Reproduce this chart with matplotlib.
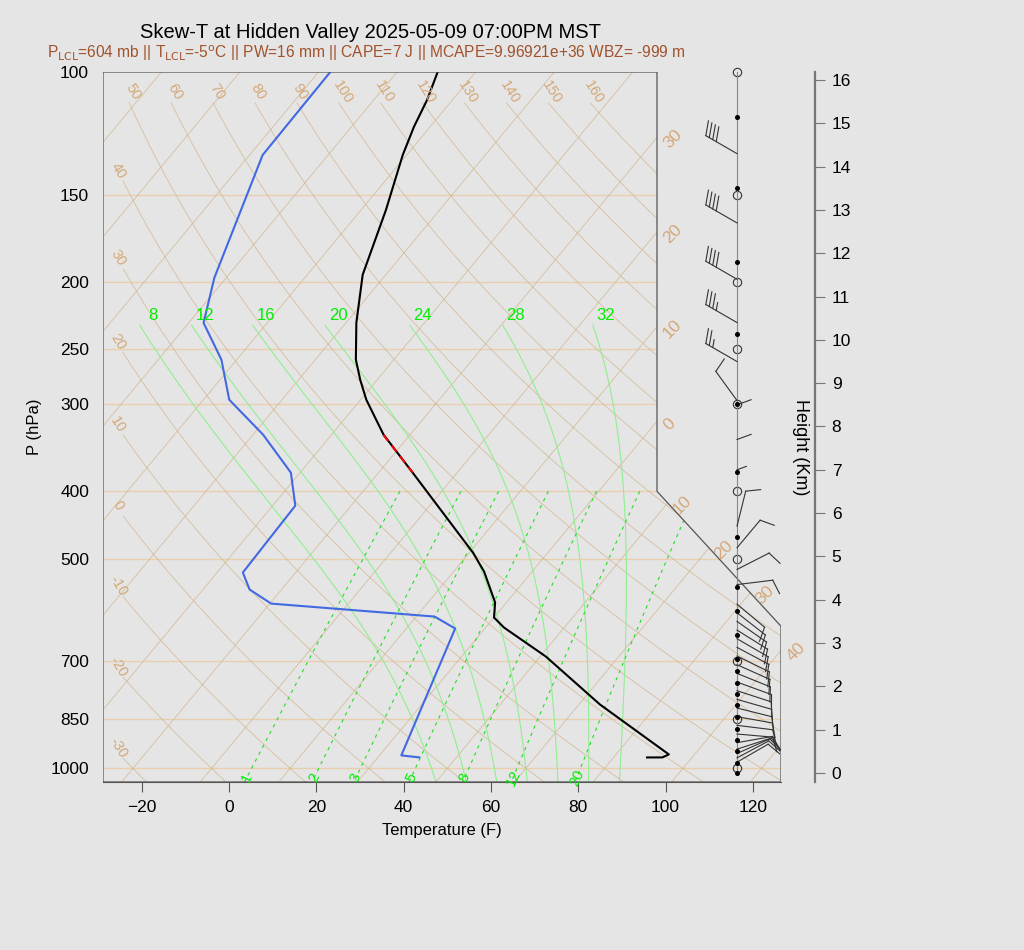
import numpy as np
import matplotlib
matplotlib.use("Agg")
import matplotlib.pyplot as plt
from matplotlib.patches import Polygon

plt.rcParams["font.family"] = ["Liberation Sans", "DejaVu Sans"]

# ---- sounding (pressure hPa, temperature F) ----
temp_p = [100, 109.7, 119.9, 131.6, 157.8, 195.5, 229.2, 258.9, 276.6, 295.5, 331.7, 376.1,
          489.8, 521.7, 577.8, 607.2, 627.7, 690.8, 809.4, 954.8, 964.3, 964.5]
temp_f = [-84.7, -81.8, -79.7, -76.9, -70.3, -63.3, -55.6, -48.7, -43.9, -38.7, -28.1, -14.2,
          14.8, 21.0, 29.4, 32.0, 36.2, 51.3, 72.8, 98.1, 97.2, 93.7]
dewp_p = [100, 131.6, 197.5, 229.2, 258.9, 276.6, 295.5, 331.7, 376.1, 419.5, 523.3, 553.6,
          579.9, 605.3, 629.7, 957.9, 964.3]
dewp_f = [-109.3, -109.0, -96.7, -90.6, -79.5, -74.8, -70.1, -55.7, -42.1, -34.8, -34.1, -29.3,
          -21.7, 18.2, 25.2, 37.0, 41.5]
parcel_p = [332, 376]
parcel_f = [-28.1, -14.2]

# ---- winds (height km, direction deg, speed kt) ----
wind_h = [14.3, 12.7, 11.4, 10.4, 9.5, 8.6, 8.5, 7.7, 7.0, 5.7, 5.2, 4.7, 4.35,
          3.9, 3.7, 3.5, 3.3, 3.1, 2.9, 2.7, 2.5, 2.3, 2.1, 1.9, 1.7, 1.5, 1.3, 1.1, 0.9,
          0.7, 0.55, 0.45, 0.35, 0.25]
wind_dir = [300, 300, 300, 300, 300, 324, 70, 70, 70, 14, 40, 63, 83,
            130, 128, 125, 122, 120, 118, 116, 114, 112, 110, 108, 106, 104, 100, 97, 95,
            80, 72, 66, 62, 60]
wind_spd = [40, 40, 40, 35, 25, 10, 3, 3, 2, 10, 10, 10, 10,
            10, 10, 10, 10, 10, 10, 10, 10, 10, 10, 10, 10, 10, 10, 10, 10,
            10, 10, 10, 10, 10]
dot_h = [15.15, 13.5, 11.79, 10.14, 8.52, 6.95, 5.45, 4.30, 3.74, 3.19, 2.63, 2.36, 2.08,
         1.82, 1.57, 1.29, 1.02, 0.76, 0.51, 0.23, 0.0]
circle_p = [100, 150, 200, 250, 300, 400, 500, 700, 850, 1000]

p_ticks = [100, 150, 200, 250, 300, 400, 500, 700, 850, 1000]
t_ticks = [-20, 0, 20, 40, 60, 80, 100, 120]
h_ticks = list(range(0, 17))
dry_theta_c = list(range(-30, 170, 10))
iso_c = list(range(-100, 60, 10))
moist_c = [8, 12, 16, 20, 24, 28, 32]
mix_gkg = [1, 2, 3, 5, 8, 12, 20]

K = 132.5          # skew, F per decade of pressure
XMIN, XMAX = -28.87, 126.46
PBOT, PTOP = 1046, 100
TAN = "#D2B48C"
LAB = "#D4A877"
BG = "#E5E5E5"
MIX_SHIFT = 4.0    # F, line placement as drawn in the original


def skew(tf, p):
    return np.asarray(tf) + K * np.log10(1000.0 / np.asarray(p))


def c2f(c):
    return np.asarray(c) * 9 / 5 + 32


def k2f(k):
    return c2f(np.asarray(k) - 273.15)


fig = plt.figure(figsize=(10.24, 9.5), dpi=100, facecolor=BG)
ax = fig.add_axes([103 / 1024, 168 / 950, 678 / 1024, 710 / 950], facecolor=BG)
ax.set_yscale("log")
ax.set_xlim(XMIN, XMAX)
ax.set_ylim(PBOT, PTOP)
for s in ax.spines.values():
    s.set_visible(False)

box = Polygon([(XMIN, PBOT), (XMIN, PTOP), (98.05, PTOP), (98.05, 400), (XMAX, 625), (XMAX, PBOT)],
              closed=True, fill=False, edgecolor="#555555", lw=0.9, transform=ax.transData, zorder=6)
ax.add_patch(box)


def clipped(lines):
    for ln in lines:
        ln.set_clip_path(box)


pp = np.logspace(np.log10(PTOP), np.log10(PBOT), 300)

# isobars
for p in p_ticks[1:]:
    clipped(ax.plot([XMIN, XMAX], [p, p], color="#E9CFAE", lw=1.0, zorder=1))


def right_edge(p):
    if p <= 400:
        return 98.05
    if p >= 625:
        return XMAX
    f = (np.log10(p) - np.log10(400)) / (np.log10(625) - np.log10(400))
    return 98.05 + f * (XMAX - 98.05)


# isotherms
for c in iso_c:
    x = skew(np.full_like(pp, c2f(c)), pp)
    clipped(ax.plot(x, pp, color=TAN, lw=0.6, alpha=0.8, zorder=1))
    if -30 <= c <= 40:
        d = np.array([xi - right_edge(pi) for xi, pi in zip(x, pp)])
        i = np.where(np.diff(np.sign(d)) != 0)[0]
        if len(i):
            pi = pp[i[0]]
            ax.text(right_edge(pi) + 0.8, pi * 1.01, f"{abs(c)}", color=LAB, fontsize=12.5,
                    rotation=45, ha="left", va="center", zorder=7)

# dry adiabats
for th in dry_theta_c:
    tk = (th + 273.15) * (pp / 1000.0) ** 0.2857
    x = skew(k2f(tk), pp)
    m = (pp >= 110) & (x >= -24.5)
    if m.sum() < 2:
        continue
    clipped(ax.plot(x[m], pp[m], color=TAN, lw=0.6, alpha=0.8, zorder=1))
    x0, p0 = x[m][0], pp[m][0]
    ax.text(x0 + (0.8 if p0 < 112 else -1.2), p0 * 0.965, f"{th}", color=LAB, fontsize=10.5,
            rotation=-58, ha="center", va="center", zorder=7)


# moist (pseudo) adiabats
def es(tc):
    return 6.112 * np.exp(17.67 * tc / (tc + 243.5))


def moist_lapse(t, p):
    rs = 0.622 * es(t - 273.15) / (p - es(t - 273.15))
    lv, rd, cp, eps = 2.5e6, 287.0, 1005.0, 0.622
    return (rd * t + lv * rs) / (p * (cp + lv ** 2 * rs * eps / (rd * t ** 2)))


def moist_curve(tc):
    out = {}
    for pend in (231.0, PBOT):
        ps = np.linspace(1000, pend, 400)
        t = tc + 273.15
        ts = [t]
        for a, b in zip(ps[:-1], ps[1:]):
            t = t + moist_lapse(t, a) * (b - a)
            ts.append(t)
        out[pend] = (ps, np.array(ts))
    up_p, up_t = out[231.0]
    dn_p, dn_t = out[PBOT]
    return np.concatenate([up_p[::-1], dn_p[1:]]), np.concatenate([up_t[::-1], dn_t[1:]])


for c in moist_c:
    mp, mt = moist_curve(c)
    x = skew(k2f(mt), mp)
    clipped(ax.plot(x, mp, color="#90EE90", lw=0.8, zorder=2))
    ax.text(x[0] + 3.0, 224, f"{c}", color="#00EE00", fontsize=12, ha="center", va="center", zorder=7)

# mixing ratio lines
pm = np.logspace(np.log10(400), np.log10(PBOT), 100)
for w in mix_gkg:
    e = w * pm / (622.0 + w)
    lg = np.log(e / 6.112)
    td = 243.5 * lg / (17.67 - lg)
    x = skew(c2f(td) + MIX_SHIFT, pm)
    clipped(ax.plot(x, pm, color="#22DD22", lw=0.8, ls=(0, (3, 4)), zorder=2))
    ax.text(x[-1] + 0.5, 1031, f"{w}", color="#00EE00", fontsize=10.5, rotation=65,
            ha="center", va="center", zorder=7)

# sounding
ax.plot(skew(dewp_f, dewp_p), dewp_p, color="#4169E1", lw=1.5, zorder=4)
ax.plot(skew(temp_f, temp_p), temp_p, color="black", lw=1.5, zorder=4)
ax.plot(skew(parcel_f, parcel_p), parcel_p, color="red", lw=1.4, ls=(0, (4, 3)), zorder=5)

# circles on wind axis at mandatory levels
BARB_XF = (737 - 229) / 4.365
ax.plot([BARB_XF] * len(circle_p), circle_p, "o", mfc="none", mec="#333333", ms=6, mew=0.8,
        zorder=8, clip_on=False)

# bottom axis
ax.set_xticks(t_ticks)
ax.tick_params(axis="x", length=7, labelsize=12.5, pad=6, color="#555555")
ax.set_xlabel("Temperature (F)", fontsize=12, labelpad=6)
ax.set_yticks(p_ticks)
ax.set_yticklabels([str(p) for p in p_ticks])
ax.yaxis.set_minor_locator(matplotlib.ticker.NullLocator())
ax.tick_params(axis="y", length=0, labelsize=12.5, pad=10)
ax.set_ylabel("P (hPa)", fontsize=12, labelpad=6)
ax.spines["bottom"].set_visible(True)
ax.spines["bottom"].set_color("#555555")

# ---- height / wind panel ----
PXK = 43.3
axh = fig.add_axes([690 / 1024, 168 / 950, 125 / 1024, 710 / 950], facecolor="none")
axh.set_xlim(0, 125)
axh.set_ylim(-9 / PXK, 16 + 8 / PXK)
for k in ("left", "top", "bottom"):
    axh.spines[k].set_visible(False)
axh.spines["right"].set_color("#777777")
axh.spines["right"].set_linewidth(1.6)
axh.set_xticks([])
axh.yaxis.tick_right()
axh.set_yticks(h_ticks)
axh.tick_params(axis="y", length=7, labelsize=12.5, pad=5, color="#777777")
axh.text((800 - 690) / 125, (950 - 447 - 168) / 710, "Height (Km)", transform=axh.transAxes,
         rotation=-90, ha="center", va="center", fontsize=13)

X0 = 47
axh.plot([X0, X0], [0, 16 + 8 / PXK], color="#888888", lw=0.8, zorder=2)
axh.plot([X0] * len(dot_h), dot_h, "o", color="black", ms=2.6, zorder=4)

for h, d, s in zip(wind_h, wind_dir, wind_spd):
    rad = np.radians(d)
    L = 36 if s >= 5 else 5 * s
    ex, ey = X0 + L * np.sin(rad), h + L * np.cos(rad) / PXK
    axh.plot([X0, ex], [h, ey], color="#333333", lw=0.8, zorder=3)
    tr = np.radians(d + 70)
    n_full, half = int(s // 10), (s % 10) >= 5
    for j in range(n_full + int(half)):
        bl = 15 if j < n_full else 8
        bx = ex - j * 4 * np.sin(rad)
        by = ey - j * 4 * np.cos(rad) / PXK
        axh.plot([bx, bx + bl * np.sin(tr)], [by, by + bl * np.cos(tr) / PXK],
                 color="#333333", lw=0.8, zorder=3)

# titles
fig.text(370 / 1024, 1 - 32 / 950, "Skew-T at Hidden Valley 2025-05-09 07:00PM MST",
         ha="center", va="center", fontsize=14.5)
fig.text(366 / 1024, 1 - 53 / 950,
         r"P$_{\mathrm{LCL}}$=604 mb || T$_{\mathrm{LCL}}$=-5$^{\mathrm{o}}$C || PW=16 mm || "
         r"CAPE=7 J || MCAPE=9.96921e+36 WBZ= -999 m",
         ha="center", va="center", fontsize=11.2, color="#A0522D")

fig.savefig("out.png", dpi=100, facecolor=BG)
